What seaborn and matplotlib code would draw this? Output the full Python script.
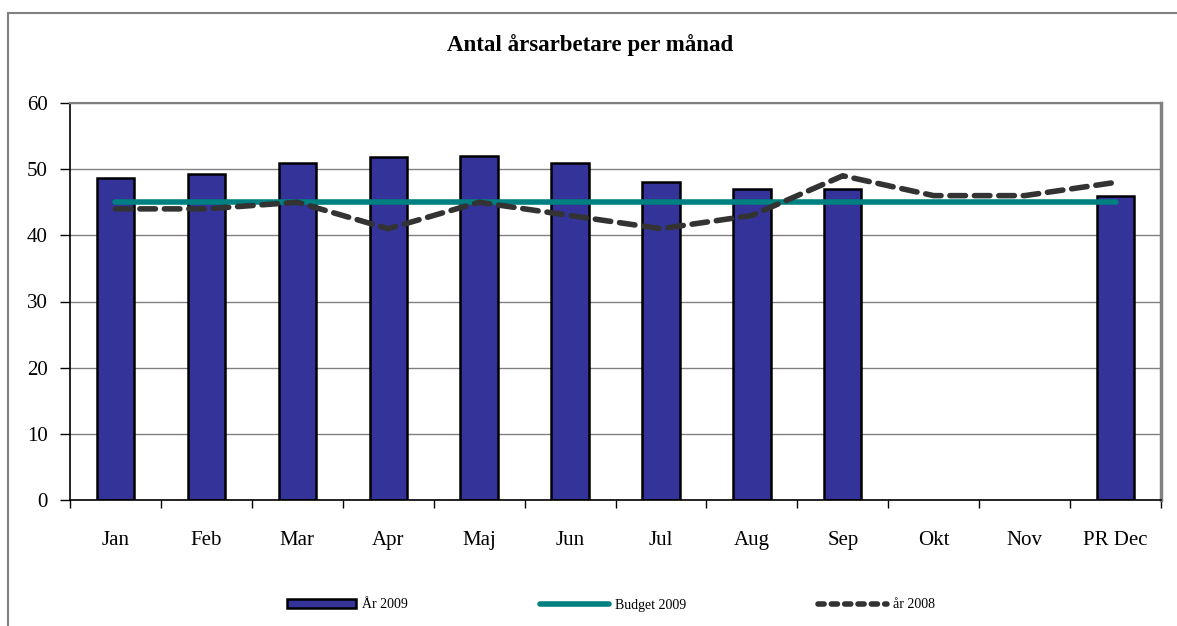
import numpy as np
import pandas as pd
import matplotlib
matplotlib.use("Agg")
import matplotlib.pyplot as plt
from matplotlib.lines import Line2D
from matplotlib.patches import Patch
import seaborn as sns

months = ["Jan", "Feb", "Mar", "Apr", "Maj", "Jun", "Jul", "Aug", "Sep", "Okt", "Nov", "PR Dec"]
ar_2009 = [48.7, 49.3, 51.0, 51.9, 52.0, 51.0, 48.0, 47.0, 47.0, np.nan, np.nan, 46.0]
budget_2009 = [45, 45, 45, 45, 45, 45, 45, 45, 45, 45, 45, 45]
ar_2008 = [44, 44, 45, 41, 45, 43, 41, 43, 49, 46, 46, 48]

sns.set_style("white")
plt.rcParams["font.family"] = ["Liberation Serif", "DejaVu Serif"]
plt.rcParams["text.color"] = "black"
plt.rcParams["xtick.color"] = "black"
plt.rcParams["ytick.color"] = "black"

df = pd.DataFrame({"month": months, "ar2009": ar_2009, "budget": budget_2009, "ar2008": ar_2008})
df["pos"] = np.arange(len(df))

fig = plt.figure(figsize=(11.77, 6.26), dpi=100)
ax = fig.add_axes([70 / 1177, 126 / 626, 1091 / 1177, 397 / 626])

sns.barplot(data=df, x="month", y="ar2009", order=months, color="#333399",
            edgecolor="black", linewidth=1.8, width=0.41, saturation=1, ax=ax)
sns.lineplot(data=df, x="pos", y="budget", color="#008080", linewidth=4, ax=ax)
sns.lineplot(data=df, x="pos", y="ar2008", color="#333333", linewidth=4, ax=ax)
ax.lines[-1].set_dashes((2.8, 1.6))
ax.lines[-1].set_dash_capstyle("round")

ax.set_xlim(-0.5, len(months) - 0.5)
ax.set_ylim(0, 60)
ax.set_yticks(range(0, 61, 10))
ax.set_xticks(range(len(months)))
ax.set_xticklabels(months)
ax.set_xticks(np.arange(-0.5, len(months), 1), minor=True)
ax.tick_params(axis="x", which="major", bottom=True, length=0, pad=22, labelsize=15)
ax.tick_params(axis="x", which="minor", bottom=True, length=6, width=1, direction="out")
ax.tick_params(axis="y", left=True, length=7, width=1, direction="out", pad=9, labelsize=15)
ax.set_xlabel("")
ax.set_ylabel("")
ax.yaxis.grid(True, color="#808080", linewidth=1)
ax.set_axisbelow(True)
for side in ["left", "bottom"]:
    ax.spines[side].set_color("black")
    ax.spines[side].set_linewidth(1.2)
ax.spines["top"].set_color("#808080")
ax.spines["top"].set_linewidth(1.5)
ax.spines["right"].set_color("#808080")
ax.spines["right"].set_linewidth(2.5)

fig.text(590 / 1177, 1 - 45 / 626, "Antal årsarbetare per månad", ha="center", va="center",
         fontsize=16.5, fontweight="bold")

# outer chart frame (cut off at right and bottom)
fig.add_artist(Line2D([8 / 1177, 1], [1 - 13 / 626, 1 - 13 / 626], color="#808080", linewidth=1.5))
fig.add_artist(Line2D([8 / 1177, 8 / 1177], [0, 1 - 13 / 626], color="#808080", linewidth=1.5))

handles = [
    Patch(facecolor="#333399", edgecolor="black", linewidth=1.8),
    Line2D([], [], color="#008080", linewidth=4),
    Line2D([], [], color="#333333", linewidth=4, dashes=(1.1, 1.3), dash_capstyle="round"),
]
fig.legend(handles, ["År 2009", "Budget 2009", "år 2008"], loc="center", ncol=3,
           bbox_to_anchor=(611 / 1177, 21 / 626), frameon=False, fontsize=10,
           handlelength=5.0, handleheight=0.6, handletextpad=0.4, columnspacing=9.5)

fig.savefig("out.png", dpi=100)
